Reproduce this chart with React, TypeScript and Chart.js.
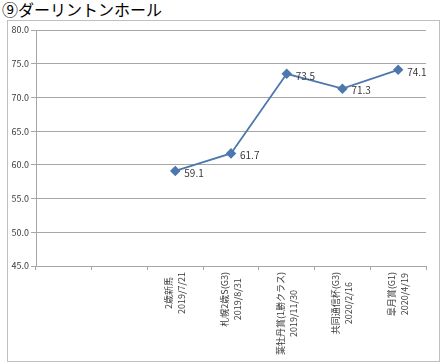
import React, { useEffect, useRef } from 'react';
import { Chart, registerables } from 'chart.js';

Chart.register(...registerables);

const chartTitle = '⑨ダーリントンホール';
const raceNames = ['', '', '2歳新馬', '札幌2歳S(G3)', '葉牡丹賞(1勝クラス)', '共同通信杯(G3)', '皐月賞(G1)'];
const raceDates = ['', '', '2019/7/21', '2019/8/31', '2019/11/30', '2020/2/16', '2020/4/19'];
const ratings: (number | null)[] = [null, null, 59.1, 61.7, 73.5, 71.3, 74.1];
const yMin = 45;
const yMax = 80;
const yStep = 5;

const FONT = '"Noto Sans CJK JP", "Noto Sans", sans-serif';
const LINE_COLOR = '#4d78ad';
const TEXT_COLOR = '#3a3a3a';
const GRID_COLOR = '#a6a6a6';

const xLabelPlugin = {
  id: 'xLabels',
  afterDraw(chart: any) {
    const ctx = chart.ctx;
    const xs = chart.scales.x;
    const top = chart.chartArea.bottom + 6;
    ctx.save();
    ctx.font = `9px ${FONT}`;
    ctx.fillStyle = TEXT_COLOR;
    ctx.textBaseline = 'middle';
    ctx.textAlign = 'center';
    raceNames.forEach((name, i) => {
      const lines = [name, raceDates[i]].filter((s) => s);
      if (!lines.length) return;
      const x = xs.getPixelForValue(i);
      const w = Math.max(...lines.map((l) => ctx.measureText(l).width));
      ctx.save();
      ctx.translate(x, top);
      ctx.rotate(-Math.PI / 2);
      const lh = 13;
      lines.forEach((l, j) => {
        ctx.fillText(l, -w / 2, (j - (lines.length - 1) / 2) * lh);
      });
      ctx.restore();
    });
    ctx.restore();
  },
};

const dataLabelPlugin = {
  id: 'dataLabels',
  afterDatasetsDraw(chart: any) {
    const ctx = chart.ctx;
    const meta = chart.getDatasetMeta(0);
    ctx.save();
    ctx.font = `10px ${FONT}`;
    ctx.fillStyle = TEXT_COLOR;
    ctx.textAlign = 'left';
    ctx.textBaseline = 'middle';
    meta.data.forEach((pt: any, i: number) => {
      const v = ratings[i];
      if (v == null) return;
      ctx.fillText(v.toFixed(1), pt.x + 9, pt.y + 2);
    });
    ctx.restore();
  },
};

export default function App() {
  const ref = useRef<HTMLCanvasElement>(null);
  useEffect(() => {
    if (!ref.current) return;
    const chart = new Chart(ref.current, {
      type: 'line',
      data: {
        labels: raceNames.map((n, i) => [n, raceDates[i]]),
        datasets: [
          {
            data: ratings,
            borderColor: LINE_COLOR,
            backgroundColor: LINE_COLOR,
            borderWidth: 1.8,
            pointStyle: 'rectRot',
            pointRadius: 4,
            pointBackgroundColor: LINE_COLOR,
            pointBorderColor: LINE_COLOR,
            tension: 0,
            spanGaps: false,
          },
        ],
      },
      options: {
        animation: false,
        responsive: false,
        layout: { padding: { top: 9, right: 12, left: 0, bottom: 0 } },
        plugins: {
          legend: { display: false },
          tooltip: { enabled: false },
          title: { display: false },
        },
        scales: {
          x: {
            type: 'category',
            offset: true,
            grid: {
              offset: true,
              drawOnChartArea: false,
              drawTicks: true,
              tickLength: 4,
              color: GRID_COLOR,
            },
            border: { display: true, color: GRID_COLOR },
            ticks: { display: false },
            afterFit: (s: any) => {
              s.height = 94;
              s.paddingLeft = 0;
              s.paddingRight = 0;
            },
          },
          y: {
            min: yMin,
            max: yMax,
            ticks: {
              stepSize: yStep,
              padding: 2,
              color: TEXT_COLOR,
              font: { family: FONT, size: 9 },
              callback: (v: any) => Number(v).toFixed(1),
            },
            grid: {
              color: GRID_COLOR,
              drawTicks: true,
              tickLength: 5,
            },
            border: { display: true, color: GRID_COLOR },
            afterFit: (s: any) => {
              s.width = 28;
              s.paddingTop = 0;
              s.paddingBottom = 0;
            },
          },
        },
      },
      plugins: [xLabelPlugin, dataLabelPlugin],
    } as any);
    return () => chart.destroy();
  }, []);

  return (
    <div style={{ position: 'fixed', left: 0, top: 0, width: 440, height: 364, background: '#ffffff', overflow: 'hidden' }}>
      <div
        style={{
          position: 'absolute',
          left: 2,
          top: 0,
          fontFamily: FONT,
          fontSize: 16,
          lineHeight: '19px',
          color: '#000',
          whiteSpace: 'nowrap',
        }}
      >
        {chartTitle}
      </div>
      <div
        style={{
          position: 'absolute',
          left: 7,
          top: 20,
          width: 433,
          height: 342,
          boxSizing: 'border-box',
          border: '1px solid #bfbfbf',
          background: '#fff',
        }}
      >
        <canvas ref={ref} width={430} height={339} style={{ display: 'block' }} />
      </div>
    </div>
  );
}
